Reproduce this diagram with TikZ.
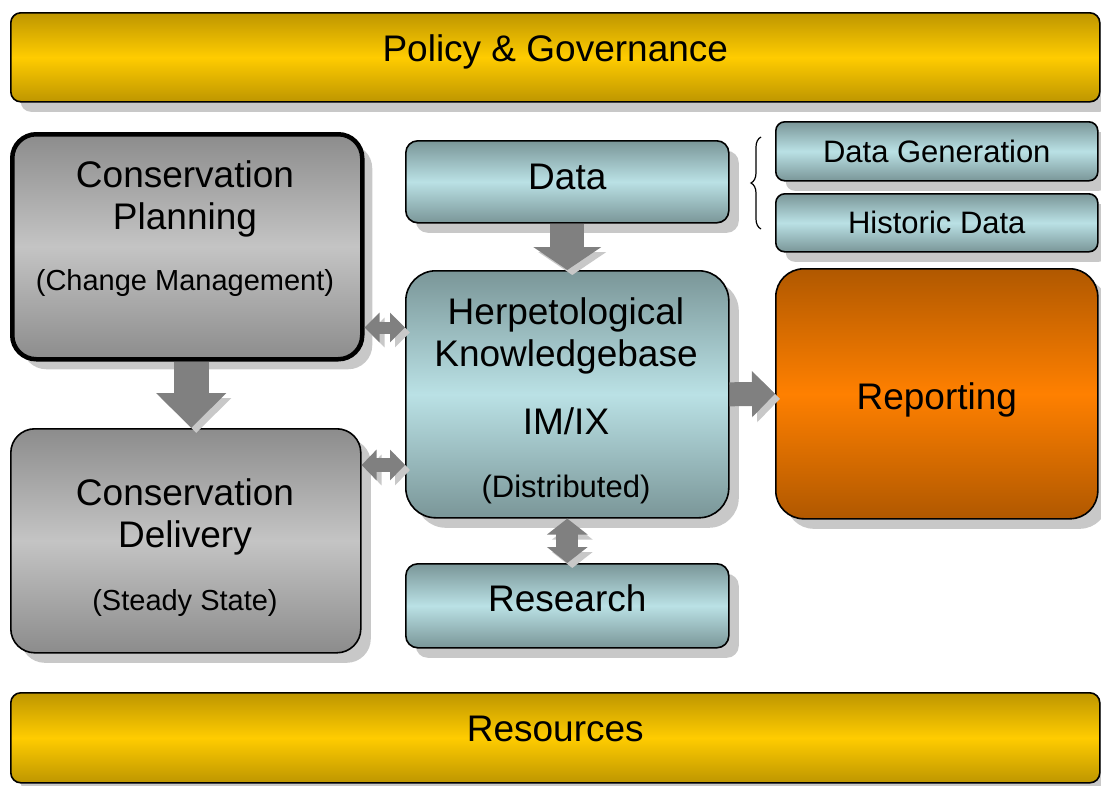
\documentclass[tikz,border=0pt]{standalone}
\usepackage{fontspec}
\setmainfont{Liberation Sans}
\usetikzlibrary{positioning,calc,shadows,arrows.meta,decorations.pathreplacing}
\definecolor{goldlight}{RGB}{255,204,0}
\definecolor{golddark}{RGB}{190,150,0}
\definecolor{graylight}{RGB}{196,196,196}
\definecolor{graydark}{RGB}{140,140,140}
\definecolor{teallight}{RGB}{186,225,229}
\definecolor{tealdark}{RGB}{122,150,152}
\definecolor{orangelight}{RGB}{255,128,0}
\definecolor{orangedark}{RGB}{176,88,0}
\definecolor{arrowgray}{RGB}{128,128,128}
\definecolor{shadowgray}{RGB}{200,200,200}

\newcommand{\shifttext}[2]{\raisebox{#1}[\height][\depth]{#2}}

\tikzset{
  box/.style={draw=black, line width=1.6pt, anchor=north west, inner sep=0pt,
    drop shadow={shadow xshift=10pt, shadow yshift=-10pt, fill=shadowgray, opacity=1}},
  goldbox/.style={box, rounded corners=10pt, top color=golddark, bottom color=golddark, middle color=goldlight},
  graybox/.style={box, rounded corners=24pt, top color=graydark, bottom color=graydark, middle color=graylight},
  tealbox/.style={box, rounded corners=12pt, top color=tealdark, bottom color=tealdark, middle color=teallight},
  orangebox/.style={box, rounded corners=28pt, top color=orangedark, bottom color=orangedark, middle color=orangelight},
  bigtext/.style={font=\fontsize{37}{42}\selectfont, align=center, inner sep=0pt},
  midtext/.style={font=\fontsize{29}{34}\selectfont, align=center, inner sep=0pt},
  blockarrow/.style n args={3}{draw=arrowgray, line width=#1pt, -{Triangle[width=#2pt, length=#3pt]},
    preaction={draw=shadowgray, transform canvas={shift={(5pt,-5pt)}}}},
  dblarrow/.style n args={3}{draw=arrowgray, line width=#1pt, {Triangle[width=#2pt, length=#3pt]}-{Triangle[width=#2pt, length=#3pt]},
    preaction={draw=shadowgray, transform canvas={shift={(5pt,-5pt)}}}}
}

\begin{document}
\begin{tikzpicture}[x=1pt,y=-1pt]
    \useasboundingbox (0,0) rectangle (1101,785);

    % Top and bottom bars
    \node[goldbox, minimum width=1089pt, minimum height=89pt, font=\fontsize{37}{42}\selectfont] (policy) at (10,12) {\shifttext{5pt}{Policy \& Governance}};
    \node[goldbox, minimum width=1089pt, minimum height=90pt, font=\fontsize{37}{42}\selectfont] (resources) at (10,692) {\shifttext{9pt}{Resources}};

    % Left column
    \node[graybox, line width=4.5pt, minimum width=350pt, minimum height=225pt] (plan) at (10,132) {};
    \node[bigtext] at (185,199) {Conservation\\Planning};
    \node[midtext] at (185,283) {(Change Management)};

    \node[graybox, minimum width=350pt, minimum height=224pt] (deliv) at (10,428) {};
    \node[bigtext] at (185,517) {Conservation\\Delivery};
    \node[midtext] at (185,603) {(Steady State)};

    % Middle column
    \node[tealbox, minimum width=323pt, minimum height=82pt, font=\fontsize{37}{42}\selectfont] (data) at (405,140) {\shifttext{5pt}{Data}};
    \node[tealbox, rounded corners=30pt, minimum width=323pt, minimum height=247pt] (kb) at (405,270) {};
    \node[bigtext] at (566,336) {Herpetological\\Knowledgebase};
    \node[bigtext] at (566,421) {IM/IX};
    \node[midtext, font=\fontsize{31}{36}\selectfont] at (566,489) {(Distributed)};
    \node[tealbox, minimum width=323pt, minimum height=84pt, font=\fontsize{37}{42}\selectfont] (res) at (405,563) {\shifttext{8pt}{Research}};

    % Right column
    \node[tealbox, rounded corners=9pt, minimum width=322pt, minimum height=59pt, font=\fontsize{31}{36}\selectfont] (gen) at (775,121) {Data Generation};
    \node[tealbox, rounded corners=9pt, minimum width=322pt, minimum height=58pt, font=\fontsize{31}{36}\selectfont] (hist) at (775,193) {Historic Data};
    \node[orangebox, minimum width=322pt, minimum height=250pt, font=\fontsize{37}{42}\selectfont] (rep) at (775,268) {\shifttext{-6pt}{Reporting}};

    % Brace
    \draw[line width=1.2pt, decorate, decoration={brace, amplitude=10pt}] (761,229) -- (761,137);

    % Arrows
    \draw[blockarrow={35}{68}{35}] ([xshift=4pt]plan.south) -- ([xshift=4pt]plan.south |- deliv.north);
    \draw[blockarrow={34}{67}{23}] (data.south) -- (kb.north);
    \draw[blockarrow={24}{45}{23}] (kb.east) -- (rep.west);
    \draw[dblarrow={22}{40}{16}] (kb.south) -- (res.north);

    \coordinate (pk) at ([yshift=34pt]plan.south east);
    \draw[dblarrow={12}{29}{15}] (pk) -- (pk -| kb.west);
    \coordinate (dk) at ([yshift=-37pt]deliv.north east);
    \draw[dblarrow={14}{30}{15}] (dk) -- (dk -| kb.west);

\end{tikzpicture}
\end{document}
